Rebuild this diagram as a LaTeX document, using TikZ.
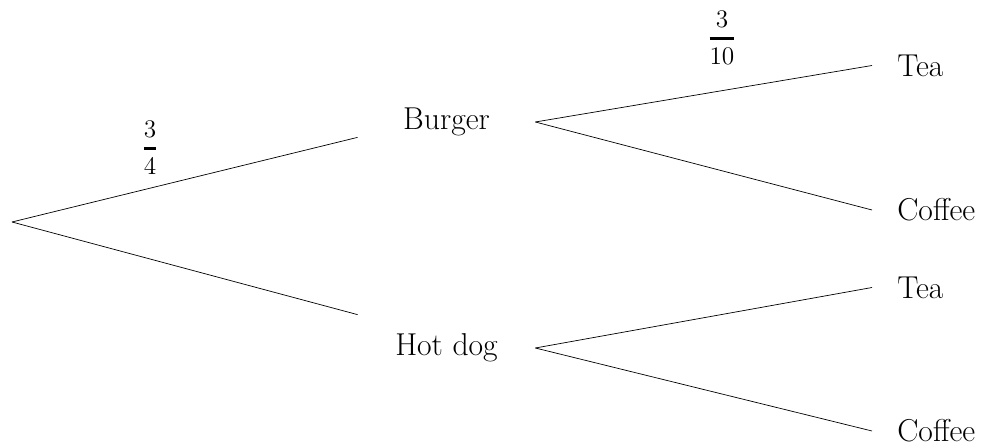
\documentclass[tikz,border=0pt]{standalone}
\usepackage{amsmath}
\usepackage{tikz}
\tikzset{food/.style={minimum width=3.54cm, minimum height=0.6cm, inner sep=0pt, font=\fontsize{18}{22}\selectfont},
         drink/.style={anchor=west, inner xsep=0.5cm, inner ysep=0pt, font=\fontsize{18}{22}\selectfont},
         prob/.style={inner sep=0pt, font=\fontsize{15}{18}\selectfont}}
\newcommand{\pfrac}[2]{$\genfrac{}{}{1.6pt}{0}{#1}{#2}$}

\begin{document}
\begin{tikzpicture}
\useasboundingbox (0,0) rectangle (19.72,-8.96);

\coordinate (Rx) at (0.24,-4.44);

\node[food] (Bx) at (8.93,-2.44) {Burger};
\node[food] (Hx) at (8.93,-6.96) {Hot dog};
\draw (Rx) -- (Bx.south west);
\draw (Rx) -- ([yshift=0.36cm]Hx.north west);

\node[drink] (BTx) at (17.44,-1.31) {Tea};
\node[drink] (BCx) at (17.44,-4.2) {Coffee};
\draw (Bx.east) -- (BTx.west);
\draw (Bx.east) -- (BCx.west);

\node[drink] (HTx) at (17.44,-5.75) {Tea};
\node[drink] (HCx) at (17.44,-8.62) {Coffee};
\draw (Hx.east) -- (HTx.west);
\draw (Hx.east) -- (HCx.west);

\node[prob] (BPx) at (3.0,-2.96) {\pfrac{3}{4}};
\node[prob] (BTPx) at (14.44,-0.76) {\pfrac{3}{10}};

\end{tikzpicture}
\end{document}
